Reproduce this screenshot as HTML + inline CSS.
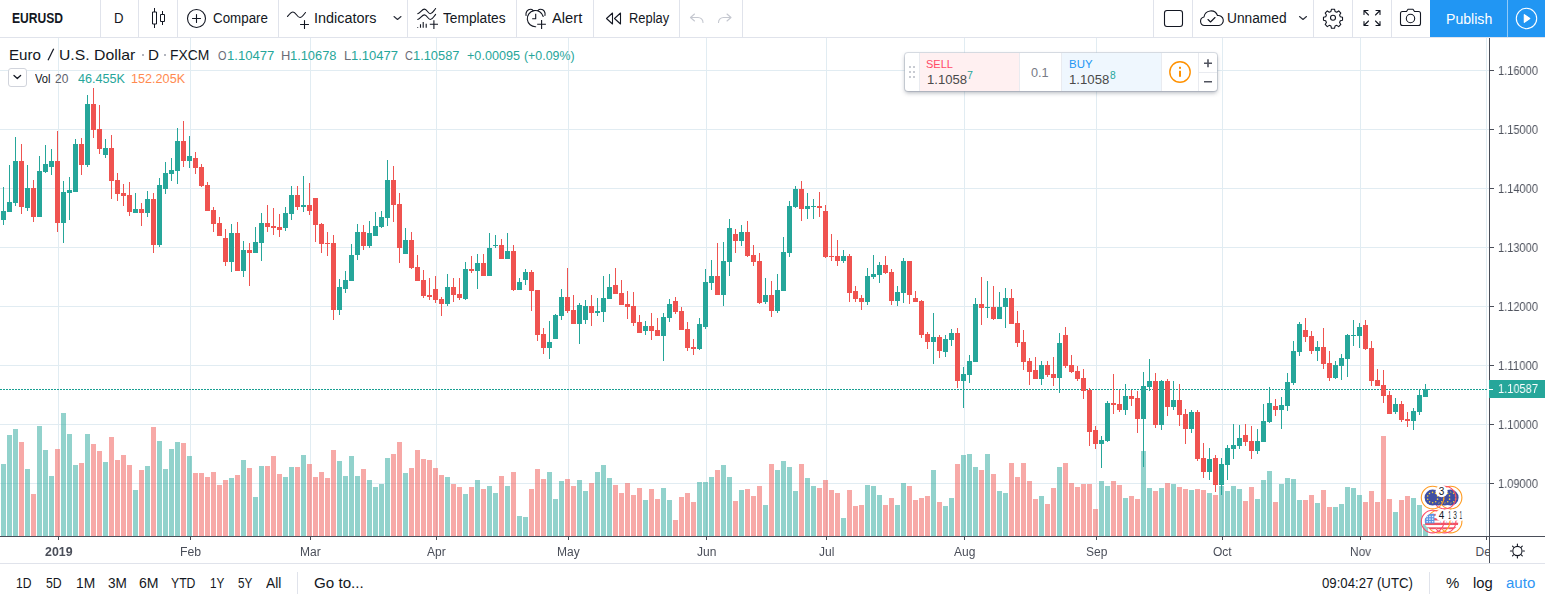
<!DOCTYPE html>
<html>
<head>
<meta charset="utf-8">
<title>EURUSD</title>
<style>
html,body{margin:0;padding:0;}
body{width:1545px;height:600px;overflow:hidden;background:#fff;position:relative;font-family:"Liberation Sans",sans-serif;color:#131722;}
.abs{position:absolute;}
.t{position:absolute;line-height:1;white-space:pre;transform-origin:0 0;}
.c{will-change:transform;}
.sep{position:absolute;top:0;width:1px;height:37px;background:#e0e3eb;}
svg{position:absolute;left:0;top:0;overflow:visible;}
</style>
</head>
<body>
<!-- chart svg -->
<svg width="1545" height="600" viewBox="0 0 1545 600" shape-rendering="crispEdges">
<rect x="0" y="70" width="1489" height="1" fill="#e1ecf2"/>
<rect x="0" y="129" width="1489" height="1" fill="#e1ecf2"/>
<rect x="0" y="188" width="1489" height="1" fill="#e1ecf2"/>
<rect x="0" y="247" width="1489" height="1" fill="#e1ecf2"/>
<rect x="0" y="306" width="1489" height="1" fill="#e1ecf2"/>
<rect x="0" y="365" width="1489" height="1" fill="#e1ecf2"/>
<rect x="0" y="424" width="1489" height="1" fill="#e1ecf2"/>
<rect x="0" y="483" width="1489" height="1" fill="#e1ecf2"/>
<rect x="58" y="38" width="1" height="498" fill="#e1ecf2"/>
<rect x="190" y="38" width="1" height="498" fill="#e1ecf2"/>
<rect x="310" y="38" width="1" height="498" fill="#e1ecf2"/>
<rect x="436" y="38" width="1" height="498" fill="#e1ecf2"/>
<rect x="568" y="38" width="1" height="498" fill="#e1ecf2"/>
<rect x="706" y="38" width="1" height="498" fill="#e1ecf2"/>
<rect x="826" y="38" width="1" height="498" fill="#e1ecf2"/>
<rect x="964" y="38" width="1" height="498" fill="#e1ecf2"/>
<rect x="1096" y="38" width="1" height="498" fill="#e1ecf2"/>
<rect x="1222" y="38" width="1" height="498" fill="#e1ecf2"/>
<rect x="1360" y="38" width="1" height="498" fill="#e1ecf2"/>
<rect x="1486" y="38" width="1" height="498" fill="#e1ecf2"/>
<rect x="1" y="464" width="5" height="72" fill="rgba(38,166,154,0.5)"/>
<rect x="7" y="435" width="5" height="101" fill="rgba(38,166,154,0.5)"/>
<rect x="13" y="429" width="5" height="107" fill="rgba(38,166,154,0.5)"/>
<rect x="19" y="442" width="5" height="94" fill="rgba(239,83,80,0.5)"/>
<rect x="25" y="469" width="5" height="67" fill="rgba(38,166,154,0.5)"/>
<rect x="31" y="494" width="5" height="42" fill="rgba(239,83,80,0.5)"/>
<rect x="37" y="426" width="5" height="110" fill="rgba(38,166,154,0.5)"/>
<rect x="43" y="450" width="5" height="86" fill="rgba(38,166,154,0.5)"/>
<rect x="49" y="476" width="5" height="60" fill="rgba(38,166,154,0.5)"/>
<rect x="55" y="449" width="5" height="87" fill="rgba(239,83,80,0.5)"/>
<rect x="61" y="413" width="5" height="123" fill="rgba(38,166,154,0.5)"/>
<rect x="67" y="434" width="5" height="102" fill="rgba(38,166,154,0.5)"/>
<rect x="73" y="465" width="5" height="71" fill="rgba(38,166,154,0.5)"/>
<rect x="79" y="463" width="5" height="73" fill="rgba(239,83,80,0.5)"/>
<rect x="85" y="434" width="5" height="102" fill="rgba(38,166,154,0.5)"/>
<rect x="91" y="444" width="5" height="92" fill="rgba(239,83,80,0.5)"/>
<rect x="97" y="451" width="5" height="85" fill="rgba(239,83,80,0.5)"/>
<rect x="103" y="462" width="5" height="74" fill="rgba(38,166,154,0.5)"/>
<rect x="109" y="437" width="5" height="99" fill="rgba(239,83,80,0.5)"/>
<rect x="115" y="460" width="5" height="76" fill="rgba(239,83,80,0.5)"/>
<rect x="121" y="455" width="5" height="81" fill="rgba(239,83,80,0.5)"/>
<rect x="127" y="465" width="5" height="71" fill="rgba(239,83,80,0.5)"/>
<rect x="133" y="490" width="5" height="46" fill="rgba(38,166,154,0.5)"/>
<rect x="139" y="470" width="5" height="66" fill="rgba(239,83,80,0.5)"/>
<rect x="145" y="466" width="5" height="70" fill="rgba(38,166,154,0.5)"/>
<rect x="151" y="427" width="5" height="109" fill="rgba(239,83,80,0.5)"/>
<rect x="157" y="441" width="5" height="95" fill="rgba(38,166,154,0.5)"/>
<rect x="163" y="469" width="5" height="67" fill="rgba(38,166,154,0.5)"/>
<rect x="169" y="449" width="5" height="87" fill="rgba(38,166,154,0.5)"/>
<rect x="175" y="442" width="5" height="94" fill="rgba(38,166,154,0.5)"/>
<rect x="181" y="443" width="5" height="93" fill="rgba(239,83,80,0.5)"/>
<rect x="187" y="456" width="5" height="80" fill="rgba(38,166,154,0.5)"/>
<rect x="193" y="473" width="5" height="63" fill="rgba(239,83,80,0.5)"/>
<rect x="199" y="473" width="5" height="63" fill="rgba(239,83,80,0.5)"/>
<rect x="205" y="477" width="5" height="59" fill="rgba(239,83,80,0.5)"/>
<rect x="211" y="472" width="5" height="64" fill="rgba(239,83,80,0.5)"/>
<rect x="217" y="485" width="5" height="51" fill="rgba(239,83,80,0.5)"/>
<rect x="223" y="480" width="5" height="56" fill="rgba(239,83,80,0.5)"/>
<rect x="229" y="478" width="5" height="58" fill="rgba(38,166,154,0.5)"/>
<rect x="235" y="475" width="5" height="61" fill="rgba(239,83,80,0.5)"/>
<rect x="241" y="460" width="5" height="76" fill="rgba(38,166,154,0.5)"/>
<rect x="247" y="468" width="5" height="68" fill="rgba(239,83,80,0.5)"/>
<rect x="253" y="497" width="5" height="39" fill="rgba(38,166,154,0.5)"/>
<rect x="259" y="466" width="5" height="70" fill="rgba(38,166,154,0.5)"/>
<rect x="265" y="466" width="5" height="70" fill="rgba(239,83,80,0.5)"/>
<rect x="271" y="456" width="5" height="80" fill="rgba(239,83,80,0.5)"/>
<rect x="277" y="474" width="5" height="62" fill="rgba(239,83,80,0.5)"/>
<rect x="283" y="477" width="5" height="59" fill="rgba(38,166,154,0.5)"/>
<rect x="289" y="467" width="5" height="69" fill="rgba(38,166,154,0.5)"/>
<rect x="295" y="467" width="5" height="69" fill="rgba(239,83,80,0.5)"/>
<rect x="301" y="455" width="5" height="81" fill="rgba(38,166,154,0.5)"/>
<rect x="307" y="464" width="5" height="72" fill="rgba(239,83,80,0.5)"/>
<rect x="313" y="477" width="5" height="59" fill="rgba(239,83,80,0.5)"/>
<rect x="319" y="472" width="5" height="64" fill="rgba(239,83,80,0.5)"/>
<rect x="325" y="478" width="5" height="58" fill="rgba(239,83,80,0.5)"/>
<rect x="331" y="450" width="5" height="86" fill="rgba(239,83,80,0.5)"/>
<rect x="337" y="461" width="5" height="75" fill="rgba(38,166,154,0.5)"/>
<rect x="343" y="476" width="5" height="60" fill="rgba(38,166,154,0.5)"/>
<rect x="349" y="456" width="5" height="80" fill="rgba(38,166,154,0.5)"/>
<rect x="355" y="476" width="5" height="60" fill="rgba(38,166,154,0.5)"/>
<rect x="361" y="469" width="5" height="67" fill="rgba(239,83,80,0.5)"/>
<rect x="367" y="480" width="5" height="56" fill="rgba(38,166,154,0.5)"/>
<rect x="373" y="487" width="5" height="49" fill="rgba(38,166,154,0.5)"/>
<rect x="379" y="484" width="5" height="52" fill="rgba(38,166,154,0.5)"/>
<rect x="385" y="458" width="5" height="78" fill="rgba(38,166,154,0.5)"/>
<rect x="391" y="454" width="5" height="82" fill="rgba(239,83,80,0.5)"/>
<rect x="397" y="442" width="5" height="94" fill="rgba(239,83,80,0.5)"/>
<rect x="403" y="473" width="5" height="63" fill="rgba(38,166,154,0.5)"/>
<rect x="409" y="468" width="5" height="68" fill="rgba(239,83,80,0.5)"/>
<rect x="415" y="450" width="5" height="86" fill="rgba(239,83,80,0.5)"/>
<rect x="421" y="459" width="5" height="77" fill="rgba(239,83,80,0.5)"/>
<rect x="427" y="460" width="5" height="76" fill="rgba(239,83,80,0.5)"/>
<rect x="433" y="468" width="5" height="68" fill="rgba(239,83,80,0.5)"/>
<rect x="439" y="475" width="5" height="61" fill="rgba(239,83,80,0.5)"/>
<rect x="445" y="477" width="5" height="59" fill="rgba(38,166,154,0.5)"/>
<rect x="451" y="484" width="5" height="52" fill="rgba(239,83,80,0.5)"/>
<rect x="457" y="487" width="5" height="49" fill="rgba(239,83,80,0.5)"/>
<rect x="463" y="494" width="5" height="42" fill="rgba(38,166,154,0.5)"/>
<rect x="469" y="487" width="5" height="49" fill="rgba(239,83,80,0.5)"/>
<rect x="475" y="480" width="5" height="56" fill="rgba(38,166,154,0.5)"/>
<rect x="481" y="489" width="5" height="47" fill="rgba(239,83,80,0.5)"/>
<rect x="487" y="486" width="5" height="50" fill="rgba(38,166,154,0.5)"/>
<rect x="493" y="493" width="5" height="43" fill="rgba(38,166,154,0.5)"/>
<rect x="499" y="476" width="5" height="60" fill="rgba(239,83,80,0.5)"/>
<rect x="505" y="486" width="5" height="50" fill="rgba(38,166,154,0.5)"/>
<rect x="511" y="472" width="5" height="64" fill="rgba(239,83,80,0.5)"/>
<rect x="517" y="516" width="5" height="20" fill="rgba(38,166,154,0.5)"/>
<rect x="523" y="517" width="5" height="19" fill="rgba(38,166,154,0.5)"/>
<rect x="529" y="489" width="5" height="47" fill="rgba(239,83,80,0.5)"/>
<rect x="535" y="469" width="5" height="67" fill="rgba(239,83,80,0.5)"/>
<rect x="541" y="479" width="5" height="57" fill="rgba(239,83,80,0.5)"/>
<rect x="547" y="472" width="5" height="64" fill="rgba(38,166,154,0.5)"/>
<rect x="553" y="499" width="5" height="37" fill="rgba(38,166,154,0.5)"/>
<rect x="559" y="481" width="5" height="55" fill="rgba(38,166,154,0.5)"/>
<rect x="565" y="479" width="5" height="57" fill="rgba(239,83,80,0.5)"/>
<rect x="571" y="486" width="5" height="50" fill="rgba(239,83,80,0.5)"/>
<rect x="577" y="480" width="5" height="56" fill="rgba(38,166,154,0.5)"/>
<rect x="583" y="491" width="5" height="45" fill="rgba(38,166,154,0.5)"/>
<rect x="589" y="483" width="5" height="53" fill="rgba(239,83,80,0.5)"/>
<rect x="595" y="472" width="5" height="64" fill="rgba(38,166,154,0.5)"/>
<rect x="601" y="465" width="5" height="71" fill="rgba(38,166,154,0.5)"/>
<rect x="607" y="478" width="5" height="58" fill="rgba(38,166,154,0.5)"/>
<rect x="613" y="485" width="5" height="51" fill="rgba(239,83,80,0.5)"/>
<rect x="619" y="493" width="5" height="43" fill="rgba(239,83,80,0.5)"/>
<rect x="625" y="483" width="5" height="53" fill="rgba(239,83,80,0.5)"/>
<rect x="631" y="495" width="5" height="41" fill="rgba(239,83,80,0.5)"/>
<rect x="637" y="488" width="5" height="48" fill="rgba(239,83,80,0.5)"/>
<rect x="643" y="500" width="5" height="36" fill="rgba(38,166,154,0.5)"/>
<rect x="649" y="489" width="5" height="47" fill="rgba(239,83,80,0.5)"/>
<rect x="655" y="499" width="5" height="37" fill="rgba(239,83,80,0.5)"/>
<rect x="661" y="488" width="5" height="48" fill="rgba(38,166,154,0.5)"/>
<rect x="667" y="500" width="5" height="36" fill="rgba(38,166,154,0.5)"/>
<rect x="673" y="520" width="5" height="16" fill="rgba(239,83,80,0.5)"/>
<rect x="679" y="497" width="5" height="39" fill="rgba(239,83,80,0.5)"/>
<rect x="685" y="493" width="5" height="43" fill="rgba(239,83,80,0.5)"/>
<rect x="691" y="502" width="5" height="34" fill="rgba(239,83,80,0.5)"/>
<rect x="697" y="482" width="5" height="54" fill="rgba(38,166,154,0.5)"/>
<rect x="703" y="482" width="5" height="54" fill="rgba(38,166,154,0.5)"/>
<rect x="709" y="477" width="5" height="59" fill="rgba(38,166,154,0.5)"/>
<rect x="715" y="470" width="5" height="66" fill="rgba(239,83,80,0.5)"/>
<rect x="721" y="465" width="5" height="71" fill="rgba(38,166,154,0.5)"/>
<rect x="727" y="477" width="5" height="59" fill="rgba(38,166,154,0.5)"/>
<rect x="733" y="501" width="5" height="35" fill="rgba(239,83,80,0.5)"/>
<rect x="739" y="490" width="5" height="46" fill="rgba(38,166,154,0.5)"/>
<rect x="745" y="489" width="5" height="47" fill="rgba(239,83,80,0.5)"/>
<rect x="751" y="496" width="5" height="40" fill="rgba(239,83,80,0.5)"/>
<rect x="757" y="486" width="5" height="50" fill="rgba(239,83,80,0.5)"/>
<rect x="763" y="505" width="5" height="31" fill="rgba(38,166,154,0.5)"/>
<rect x="769" y="464" width="5" height="72" fill="rgba(239,83,80,0.5)"/>
<rect x="775" y="470" width="5" height="66" fill="rgba(38,166,154,0.5)"/>
<rect x="781" y="461" width="5" height="75" fill="rgba(38,166,154,0.5)"/>
<rect x="787" y="467" width="5" height="69" fill="rgba(38,166,154,0.5)"/>
<rect x="793" y="491" width="5" height="45" fill="rgba(38,166,154,0.5)"/>
<rect x="799" y="464" width="5" height="72" fill="rgba(239,83,80,0.5)"/>
<rect x="805" y="478" width="5" height="58" fill="rgba(38,166,154,0.5)"/>
<rect x="811" y="486" width="5" height="50" fill="rgba(38,166,154,0.5)"/>
<rect x="817" y="488" width="5" height="48" fill="rgba(239,83,80,0.5)"/>
<rect x="823" y="480" width="5" height="56" fill="rgba(239,83,80,0.5)"/>
<rect x="829" y="490" width="5" height="46" fill="rgba(239,83,80,0.5)"/>
<rect x="835" y="493" width="5" height="43" fill="rgba(239,83,80,0.5)"/>
<rect x="841" y="518" width="5" height="18" fill="rgba(38,166,154,0.5)"/>
<rect x="847" y="490" width="5" height="46" fill="rgba(239,83,80,0.5)"/>
<rect x="853" y="506" width="5" height="30" fill="rgba(239,83,80,0.5)"/>
<rect x="859" y="505" width="5" height="31" fill="rgba(239,83,80,0.5)"/>
<rect x="865" y="485" width="5" height="51" fill="rgba(38,166,154,0.5)"/>
<rect x="871" y="486" width="5" height="50" fill="rgba(38,166,154,0.5)"/>
<rect x="877" y="495" width="5" height="41" fill="rgba(38,166,154,0.5)"/>
<rect x="883" y="505" width="5" height="31" fill="rgba(239,83,80,0.5)"/>
<rect x="889" y="498" width="5" height="38" fill="rgba(239,83,80,0.5)"/>
<rect x="895" y="505" width="5" height="31" fill="rgba(38,166,154,0.5)"/>
<rect x="901" y="483" width="5" height="53" fill="rgba(38,166,154,0.5)"/>
<rect x="907" y="486" width="5" height="50" fill="rgba(239,83,80,0.5)"/>
<rect x="913" y="500" width="5" height="36" fill="rgba(239,83,80,0.5)"/>
<rect x="919" y="498" width="5" height="38" fill="rgba(239,83,80,0.5)"/>
<rect x="925" y="496" width="5" height="40" fill="rgba(239,83,80,0.5)"/>
<rect x="931" y="470" width="5" height="66" fill="rgba(38,166,154,0.5)"/>
<rect x="937" y="502" width="5" height="34" fill="rgba(239,83,80,0.5)"/>
<rect x="943" y="506" width="5" height="30" fill="rgba(38,166,154,0.5)"/>
<rect x="949" y="498" width="5" height="38" fill="rgba(38,166,154,0.5)"/>
<rect x="955" y="464" width="5" height="72" fill="rgba(239,83,80,0.5)"/>
<rect x="961" y="455" width="5" height="81" fill="rgba(38,166,154,0.5)"/>
<rect x="967" y="454" width="5" height="82" fill="rgba(38,166,154,0.5)"/>
<rect x="973" y="467" width="5" height="69" fill="rgba(38,166,154,0.5)"/>
<rect x="979" y="470" width="5" height="66" fill="rgba(239,83,80,0.5)"/>
<rect x="985" y="454" width="5" height="82" fill="rgba(38,166,154,0.5)"/>
<rect x="991" y="474" width="5" height="62" fill="rgba(239,83,80,0.5)"/>
<rect x="997" y="491" width="5" height="45" fill="rgba(38,166,154,0.5)"/>
<rect x="1003" y="493" width="5" height="43" fill="rgba(38,166,154,0.5)"/>
<rect x="1009" y="463" width="5" height="73" fill="rgba(239,83,80,0.5)"/>
<rect x="1015" y="477" width="5" height="59" fill="rgba(239,83,80,0.5)"/>
<rect x="1021" y="463" width="5" height="73" fill="rgba(239,83,80,0.5)"/>
<rect x="1027" y="481" width="5" height="55" fill="rgba(239,83,80,0.5)"/>
<rect x="1033" y="499" width="5" height="37" fill="rgba(239,83,80,0.5)"/>
<rect x="1039" y="496" width="5" height="40" fill="rgba(38,166,154,0.5)"/>
<rect x="1045" y="504" width="5" height="32" fill="rgba(239,83,80,0.5)"/>
<rect x="1051" y="488" width="5" height="48" fill="rgba(239,83,80,0.5)"/>
<rect x="1057" y="467" width="5" height="69" fill="rgba(38,166,154,0.5)"/>
<rect x="1063" y="463" width="5" height="73" fill="rgba(239,83,80,0.5)"/>
<rect x="1069" y="483" width="5" height="53" fill="rgba(239,83,80,0.5)"/>
<rect x="1075" y="487" width="5" height="49" fill="rgba(239,83,80,0.5)"/>
<rect x="1081" y="484" width="5" height="52" fill="rgba(239,83,80,0.5)"/>
<rect x="1087" y="484" width="5" height="52" fill="rgba(239,83,80,0.5)"/>
<rect x="1093" y="509" width="5" height="27" fill="rgba(239,83,80,0.5)"/>
<rect x="1099" y="481" width="5" height="55" fill="rgba(38,166,154,0.5)"/>
<rect x="1105" y="486" width="5" height="50" fill="rgba(38,166,154,0.5)"/>
<rect x="1111" y="481" width="5" height="55" fill="rgba(239,83,80,0.5)"/>
<rect x="1117" y="485" width="5" height="51" fill="rgba(239,83,80,0.5)"/>
<rect x="1123" y="498" width="5" height="38" fill="rgba(38,166,154,0.5)"/>
<rect x="1129" y="496" width="5" height="40" fill="rgba(239,83,80,0.5)"/>
<rect x="1135" y="499" width="5" height="37" fill="rgba(239,83,80,0.5)"/>
<rect x="1141" y="451" width="5" height="85" fill="rgba(38,166,154,0.5)"/>
<rect x="1147" y="488" width="5" height="48" fill="rgba(38,166,154,0.5)"/>
<rect x="1153" y="491" width="5" height="45" fill="rgba(239,83,80,0.5)"/>
<rect x="1159" y="488" width="5" height="48" fill="rgba(38,166,154,0.5)"/>
<rect x="1165" y="483" width="5" height="53" fill="rgba(239,83,80,0.5)"/>
<rect x="1171" y="484" width="5" height="52" fill="rgba(38,166,154,0.5)"/>
<rect x="1177" y="487" width="5" height="49" fill="rgba(239,83,80,0.5)"/>
<rect x="1183" y="489" width="5" height="47" fill="rgba(239,83,80,0.5)"/>
<rect x="1189" y="490" width="5" height="46" fill="rgba(38,166,154,0.5)"/>
<rect x="1195" y="489" width="5" height="47" fill="rgba(239,83,80,0.5)"/>
<rect x="1201" y="490" width="5" height="46" fill="rgba(239,83,80,0.5)"/>
<rect x="1207" y="493" width="5" height="43" fill="rgba(38,166,154,0.5)"/>
<rect x="1213" y="495" width="5" height="41" fill="rgba(239,83,80,0.5)"/>
<rect x="1219" y="486" width="5" height="50" fill="rgba(38,166,154,0.5)"/>
<rect x="1225" y="491" width="5" height="45" fill="rgba(38,166,154,0.5)"/>
<rect x="1231" y="486" width="5" height="50" fill="rgba(38,166,154,0.5)"/>
<rect x="1237" y="489" width="5" height="47" fill="rgba(38,166,154,0.5)"/>
<rect x="1243" y="501" width="5" height="35" fill="rgba(239,83,80,0.5)"/>
<rect x="1249" y="487" width="5" height="49" fill="rgba(239,83,80,0.5)"/>
<rect x="1255" y="499" width="5" height="37" fill="rgba(38,166,154,0.5)"/>
<rect x="1261" y="480" width="5" height="56" fill="rgba(38,166,154,0.5)"/>
<rect x="1267" y="471" width="5" height="65" fill="rgba(38,166,154,0.5)"/>
<rect x="1273" y="502" width="5" height="34" fill="rgba(239,83,80,0.5)"/>
<rect x="1279" y="484" width="5" height="52" fill="rgba(38,166,154,0.5)"/>
<rect x="1285" y="478" width="5" height="58" fill="rgba(38,166,154,0.5)"/>
<rect x="1291" y="479" width="5" height="57" fill="rgba(38,166,154,0.5)"/>
<rect x="1297" y="500" width="5" height="36" fill="rgba(38,166,154,0.5)"/>
<rect x="1303" y="500" width="5" height="36" fill="rgba(239,83,80,0.5)"/>
<rect x="1309" y="495" width="5" height="41" fill="rgba(239,83,80,0.5)"/>
<rect x="1315" y="503" width="5" height="33" fill="rgba(38,166,154,0.5)"/>
<rect x="1321" y="490" width="5" height="46" fill="rgba(239,83,80,0.5)"/>
<rect x="1327" y="507" width="5" height="29" fill="rgba(239,83,80,0.5)"/>
<rect x="1333" y="507" width="5" height="29" fill="rgba(38,166,154,0.5)"/>
<rect x="1339" y="504" width="5" height="32" fill="rgba(38,166,154,0.5)"/>
<rect x="1345" y="487" width="5" height="49" fill="rgba(38,166,154,0.5)"/>
<rect x="1351" y="488" width="5" height="48" fill="rgba(38,166,154,0.5)"/>
<rect x="1357" y="495" width="5" height="41" fill="rgba(38,166,154,0.5)"/>
<rect x="1363" y="502" width="5" height="34" fill="rgba(239,83,80,0.5)"/>
<rect x="1369" y="491" width="5" height="45" fill="rgba(239,83,80,0.5)"/>
<rect x="1375" y="502" width="5" height="34" fill="rgba(239,83,80,0.5)"/>
<rect x="1381" y="436" width="5" height="100" fill="rgba(239,83,80,0.5)"/>
<rect x="1387" y="499" width="5" height="37" fill="rgba(239,83,80,0.5)"/>
<rect x="1393" y="512" width="5" height="24" fill="rgba(38,166,154,0.5)"/>
<rect x="1399" y="500" width="5" height="36" fill="rgba(239,83,80,0.5)"/>
<rect x="1405" y="496" width="5" height="40" fill="rgba(239,83,80,0.5)"/>
<rect x="1411" y="498" width="5" height="38" fill="rgba(38,166,154,0.5)"/>
<rect x="1417" y="505" width="5" height="31" fill="rgba(38,166,154,0.5)"/>
<rect x="1423" y="524" width="5" height="12" fill="rgba(38,166,154,0.5)"/>
<line x1="0" y1="389.5" x2="1487" y2="389.5" stroke="#1a9f92" stroke-width="1" stroke-dasharray="2 1"/>
<rect x="3" y="187" width="1" height="38" fill="#26a69a"/>
<rect x="1" y="211" width="5" height="9" fill="#26a69a"/>
<rect x="9" y="165" width="1" height="47" fill="#26a69a"/>
<rect x="7" y="202" width="5" height="10" fill="#26a69a"/>
<rect x="15" y="137" width="1" height="69" fill="#26a69a"/>
<rect x="13" y="161" width="5" height="42" fill="#26a69a"/>
<rect x="21" y="144" width="1" height="70" fill="#ef5350"/>
<rect x="19" y="161" width="5" height="46" fill="#ef5350"/>
<rect x="27" y="165" width="1" height="46" fill="#26a69a"/>
<rect x="25" y="188" width="5" height="20" fill="#26a69a"/>
<rect x="33" y="180" width="1" height="42" fill="#ef5350"/>
<rect x="31" y="188" width="5" height="29" fill="#ef5350"/>
<rect x="39" y="156" width="1" height="61" fill="#26a69a"/>
<rect x="37" y="171" width="5" height="46" fill="#26a69a"/>
<rect x="45" y="145" width="1" height="28" fill="#26a69a"/>
<rect x="43" y="164" width="5" height="8" fill="#26a69a"/>
<rect x="51" y="149" width="1" height="26" fill="#26a69a"/>
<rect x="49" y="161" width="5" height="6" fill="#26a69a"/>
<rect x="57" y="131" width="1" height="101" fill="#ef5350"/>
<rect x="55" y="161" width="5" height="62" fill="#ef5350"/>
<rect x="63" y="181" width="1" height="62" fill="#26a69a"/>
<rect x="61" y="192" width="5" height="31" fill="#26a69a"/>
<rect x="69" y="177" width="1" height="43" fill="#26a69a"/>
<rect x="67" y="190" width="5" height="3" fill="#26a69a"/>
<rect x="75" y="139" width="1" height="53" fill="#26a69a"/>
<rect x="73" y="144" width="5" height="48" fill="#26a69a"/>
<rect x="81" y="138" width="1" height="37" fill="#ef5350"/>
<rect x="79" y="144" width="5" height="21" fill="#ef5350"/>
<rect x="87" y="95" width="1" height="72" fill="#26a69a"/>
<rect x="85" y="104" width="5" height="61" fill="#26a69a"/>
<rect x="93" y="88" width="1" height="50" fill="#ef5350"/>
<rect x="91" y="104" width="5" height="26" fill="#ef5350"/>
<rect x="99" y="105" width="1" height="49" fill="#ef5350"/>
<rect x="97" y="129" width="5" height="20" fill="#ef5350"/>
<rect x="105" y="139" width="1" height="19" fill="#26a69a"/>
<rect x="103" y="148" width="5" height="7" fill="#26a69a"/>
<rect x="111" y="135" width="1" height="64" fill="#ef5350"/>
<rect x="109" y="148" width="5" height="33" fill="#ef5350"/>
<rect x="117" y="173" width="1" height="28" fill="#ef5350"/>
<rect x="115" y="180" width="5" height="14" fill="#ef5350"/>
<rect x="123" y="184" width="1" height="22" fill="#ef5350"/>
<rect x="121" y="193" width="5" height="3" fill="#ef5350"/>
<rect x="129" y="182" width="1" height="34" fill="#ef5350"/>
<rect x="127" y="195" width="5" height="17" fill="#ef5350"/>
<rect x="135" y="193" width="1" height="20" fill="#26a69a"/>
<rect x="133" y="209" width="5" height="4" fill="#26a69a"/>
<rect x="141" y="203" width="1" height="23" fill="#ef5350"/>
<rect x="139" y="209" width="5" height="4" fill="#ef5350"/>
<rect x="147" y="191" width="1" height="26" fill="#26a69a"/>
<rect x="145" y="199" width="5" height="14" fill="#26a69a"/>
<rect x="153" y="193" width="1" height="60" fill="#ef5350"/>
<rect x="151" y="199" width="5" height="46" fill="#ef5350"/>
<rect x="159" y="178" width="1" height="69" fill="#26a69a"/>
<rect x="157" y="185" width="5" height="60" fill="#26a69a"/>
<rect x="165" y="162" width="1" height="32" fill="#26a69a"/>
<rect x="163" y="173" width="5" height="16" fill="#26a69a"/>
<rect x="171" y="158" width="1" height="23" fill="#26a69a"/>
<rect x="169" y="170" width="5" height="4" fill="#26a69a"/>
<rect x="177" y="128" width="1" height="56" fill="#26a69a"/>
<rect x="175" y="141" width="5" height="30" fill="#26a69a"/>
<rect x="183" y="121" width="1" height="46" fill="#ef5350"/>
<rect x="181" y="141" width="5" height="20" fill="#ef5350"/>
<rect x="189" y="136" width="1" height="32" fill="#26a69a"/>
<rect x="187" y="156" width="5" height="5" fill="#26a69a"/>
<rect x="195" y="152" width="1" height="22" fill="#ef5350"/>
<rect x="193" y="158" width="5" height="10" fill="#ef5350"/>
<rect x="201" y="164" width="1" height="23" fill="#ef5350"/>
<rect x="199" y="167" width="5" height="19" fill="#ef5350"/>
<rect x="207" y="182" width="1" height="29" fill="#ef5350"/>
<rect x="205" y="185" width="5" height="26" fill="#ef5350"/>
<rect x="213" y="207" width="1" height="25" fill="#ef5350"/>
<rect x="211" y="210" width="5" height="14" fill="#ef5350"/>
<rect x="219" y="217" width="1" height="19" fill="#ef5350"/>
<rect x="217" y="223" width="5" height="13" fill="#ef5350"/>
<rect x="225" y="229" width="1" height="37" fill="#ef5350"/>
<rect x="223" y="238" width="5" height="24" fill="#ef5350"/>
<rect x="231" y="224" width="1" height="48" fill="#26a69a"/>
<rect x="229" y="233" width="5" height="29" fill="#26a69a"/>
<rect x="237" y="222" width="1" height="49" fill="#ef5350"/>
<rect x="235" y="233" width="5" height="38" fill="#ef5350"/>
<rect x="243" y="241" width="1" height="36" fill="#26a69a"/>
<rect x="241" y="250" width="5" height="21" fill="#26a69a"/>
<rect x="249" y="243" width="1" height="43" fill="#ef5350"/>
<rect x="247" y="250" width="5" height="3" fill="#ef5350"/>
<rect x="255" y="227" width="1" height="26" fill="#26a69a"/>
<rect x="253" y="242" width="5" height="11" fill="#26a69a"/>
<rect x="261" y="213" width="1" height="48" fill="#26a69a"/>
<rect x="259" y="223" width="5" height="20" fill="#26a69a"/>
<rect x="267" y="205" width="1" height="27" fill="#ef5350"/>
<rect x="265" y="223" width="5" height="4" fill="#ef5350"/>
<rect x="273" y="208" width="1" height="27" fill="#ef5350"/>
<rect x="271" y="226" width="5" height="2" fill="#ef5350"/>
<rect x="279" y="214" width="1" height="23" fill="#ef5350"/>
<rect x="277" y="227" width="5" height="3" fill="#ef5350"/>
<rect x="285" y="207" width="1" height="24" fill="#26a69a"/>
<rect x="283" y="213" width="5" height="15" fill="#26a69a"/>
<rect x="291" y="186" width="1" height="34" fill="#26a69a"/>
<rect x="289" y="195" width="5" height="19" fill="#26a69a"/>
<rect x="297" y="186" width="1" height="24" fill="#ef5350"/>
<rect x="295" y="195" width="5" height="12" fill="#ef5350"/>
<rect x="303" y="176" width="1" height="36" fill="#26a69a"/>
<rect x="301" y="205" width="5" height="2" fill="#26a69a"/>
<rect x="309" y="183" width="1" height="32" fill="#ef5350"/>
<rect x="307" y="205" width="5" height="6" fill="#ef5350"/>
<rect x="315" y="198" width="1" height="44" fill="#ef5350"/>
<rect x="313" y="198" width="5" height="27" fill="#ef5350"/>
<rect x="321" y="223" width="1" height="30" fill="#ef5350"/>
<rect x="319" y="224" width="5" height="20" fill="#ef5350"/>
<rect x="327" y="232" width="1" height="24" fill="#ef5350"/>
<rect x="325" y="243" width="5" height="1" fill="#ef5350"/>
<rect x="333" y="235" width="1" height="85" fill="#ef5350"/>
<rect x="331" y="243" width="5" height="67" fill="#ef5350"/>
<rect x="339" y="279" width="1" height="36" fill="#26a69a"/>
<rect x="337" y="287" width="5" height="23" fill="#26a69a"/>
<rect x="345" y="271" width="1" height="22" fill="#26a69a"/>
<rect x="343" y="280" width="5" height="9" fill="#26a69a"/>
<rect x="351" y="244" width="1" height="37" fill="#26a69a"/>
<rect x="349" y="255" width="5" height="26" fill="#26a69a"/>
<rect x="357" y="224" width="1" height="36" fill="#26a69a"/>
<rect x="355" y="232" width="5" height="23" fill="#26a69a"/>
<rect x="363" y="225" width="1" height="25" fill="#ef5350"/>
<rect x="361" y="232" width="5" height="14" fill="#ef5350"/>
<rect x="369" y="221" width="1" height="27" fill="#26a69a"/>
<rect x="367" y="233" width="5" height="13" fill="#26a69a"/>
<rect x="375" y="212" width="1" height="24" fill="#26a69a"/>
<rect x="373" y="226" width="5" height="10" fill="#26a69a"/>
<rect x="381" y="211" width="1" height="17" fill="#26a69a"/>
<rect x="379" y="217" width="5" height="10" fill="#26a69a"/>
<rect x="387" y="160" width="1" height="66" fill="#26a69a"/>
<rect x="385" y="180" width="5" height="38" fill="#26a69a"/>
<rect x="393" y="166" width="1" height="56" fill="#ef5350"/>
<rect x="391" y="180" width="5" height="25" fill="#ef5350"/>
<rect x="399" y="193" width="1" height="70" fill="#ef5350"/>
<rect x="397" y="204" width="5" height="44" fill="#ef5350"/>
<rect x="405" y="228" width="1" height="26" fill="#26a69a"/>
<rect x="403" y="240" width="5" height="14" fill="#26a69a"/>
<rect x="411" y="232" width="1" height="37" fill="#ef5350"/>
<rect x="409" y="240" width="5" height="28" fill="#ef5350"/>
<rect x="417" y="255" width="1" height="26" fill="#ef5350"/>
<rect x="415" y="267" width="5" height="14" fill="#ef5350"/>
<rect x="423" y="270" width="1" height="28" fill="#ef5350"/>
<rect x="421" y="280" width="5" height="16" fill="#ef5350"/>
<rect x="429" y="278" width="1" height="22" fill="#ef5350"/>
<rect x="427" y="295" width="5" height="2" fill="#ef5350"/>
<rect x="435" y="276" width="1" height="27" fill="#ef5350"/>
<rect x="433" y="289" width="5" height="11" fill="#ef5350"/>
<rect x="441" y="297" width="1" height="19" fill="#ef5350"/>
<rect x="439" y="299" width="5" height="5" fill="#ef5350"/>
<rect x="447" y="274" width="1" height="32" fill="#26a69a"/>
<rect x="445" y="287" width="5" height="17" fill="#26a69a"/>
<rect x="453" y="278" width="1" height="24" fill="#ef5350"/>
<rect x="451" y="287" width="5" height="8" fill="#ef5350"/>
<rect x="459" y="278" width="1" height="22" fill="#ef5350"/>
<rect x="457" y="294" width="5" height="4" fill="#ef5350"/>
<rect x="465" y="262" width="1" height="38" fill="#26a69a"/>
<rect x="463" y="269" width="5" height="30" fill="#26a69a"/>
<rect x="471" y="256" width="1" height="17" fill="#ef5350"/>
<rect x="469" y="269" width="5" height="2" fill="#ef5350"/>
<rect x="477" y="254" width="1" height="35" fill="#26a69a"/>
<rect x="475" y="263" width="5" height="8" fill="#26a69a"/>
<rect x="483" y="254" width="1" height="22" fill="#ef5350"/>
<rect x="481" y="263" width="5" height="13" fill="#ef5350"/>
<rect x="489" y="233" width="1" height="43" fill="#26a69a"/>
<rect x="487" y="248" width="5" height="28" fill="#26a69a"/>
<rect x="495" y="235" width="1" height="13" fill="#26a69a"/>
<rect x="493" y="245" width="5" height="1" fill="#26a69a"/>
<rect x="501" y="239" width="1" height="20" fill="#ef5350"/>
<rect x="499" y="245" width="5" height="14" fill="#ef5350"/>
<rect x="507" y="233" width="1" height="26" fill="#26a69a"/>
<rect x="505" y="251" width="5" height="8" fill="#26a69a"/>
<rect x="513" y="245" width="1" height="46" fill="#ef5350"/>
<rect x="511" y="251" width="5" height="39" fill="#ef5350"/>
<rect x="519" y="278" width="1" height="12" fill="#26a69a"/>
<rect x="517" y="282" width="5" height="8" fill="#26a69a"/>
<rect x="525" y="269" width="1" height="16" fill="#26a69a"/>
<rect x="523" y="272" width="5" height="8" fill="#26a69a"/>
<rect x="531" y="270" width="1" height="41" fill="#ef5350"/>
<rect x="529" y="272" width="5" height="19" fill="#ef5350"/>
<rect x="537" y="290" width="1" height="51" fill="#ef5350"/>
<rect x="535" y="290" width="5" height="45" fill="#ef5350"/>
<rect x="543" y="328" width="1" height="26" fill="#ef5350"/>
<rect x="541" y="334" width="5" height="14" fill="#ef5350"/>
<rect x="549" y="321" width="1" height="38" fill="#26a69a"/>
<rect x="547" y="342" width="5" height="6" fill="#26a69a"/>
<rect x="555" y="314" width="1" height="25" fill="#26a69a"/>
<rect x="553" y="315" width="5" height="24" fill="#26a69a"/>
<rect x="561" y="289" width="1" height="31" fill="#26a69a"/>
<rect x="559" y="297" width="5" height="19" fill="#26a69a"/>
<rect x="567" y="268" width="1" height="45" fill="#ef5350"/>
<rect x="565" y="297" width="5" height="14" fill="#ef5350"/>
<rect x="573" y="295" width="1" height="29" fill="#ef5350"/>
<rect x="571" y="310" width="5" height="14" fill="#ef5350"/>
<rect x="579" y="303" width="1" height="41" fill="#26a69a"/>
<rect x="577" y="305" width="5" height="19" fill="#26a69a"/>
<rect x="585" y="300" width="1" height="24" fill="#26a69a"/>
<rect x="583" y="306" width="5" height="14" fill="#26a69a"/>
<rect x="591" y="295" width="1" height="31" fill="#ef5350"/>
<rect x="589" y="306" width="5" height="7" fill="#ef5350"/>
<rect x="597" y="298" width="1" height="18" fill="#26a69a"/>
<rect x="595" y="311" width="5" height="2" fill="#26a69a"/>
<rect x="603" y="276" width="1" height="46" fill="#26a69a"/>
<rect x="601" y="298" width="5" height="14" fill="#26a69a"/>
<rect x="609" y="274" width="1" height="25" fill="#26a69a"/>
<rect x="607" y="287" width="5" height="12" fill="#26a69a"/>
<rect x="615" y="268" width="1" height="26" fill="#ef5350"/>
<rect x="613" y="285" width="5" height="9" fill="#ef5350"/>
<rect x="621" y="280" width="1" height="25" fill="#ef5350"/>
<rect x="619" y="293" width="5" height="12" fill="#ef5350"/>
<rect x="627" y="291" width="1" height="28" fill="#ef5350"/>
<rect x="625" y="304" width="5" height="3" fill="#ef5350"/>
<rect x="633" y="292" width="1" height="34" fill="#ef5350"/>
<rect x="631" y="306" width="5" height="17" fill="#ef5350"/>
<rect x="639" y="315" width="1" height="18" fill="#ef5350"/>
<rect x="637" y="322" width="5" height="11" fill="#ef5350"/>
<rect x="645" y="321" width="1" height="14" fill="#26a69a"/>
<rect x="643" y="326" width="5" height="5" fill="#26a69a"/>
<rect x="651" y="313" width="1" height="27" fill="#ef5350"/>
<rect x="649" y="326" width="5" height="5" fill="#ef5350"/>
<rect x="657" y="318" width="1" height="18" fill="#ef5350"/>
<rect x="655" y="330" width="5" height="6" fill="#ef5350"/>
<rect x="663" y="313" width="1" height="48" fill="#26a69a"/>
<rect x="661" y="317" width="5" height="19" fill="#26a69a"/>
<rect x="669" y="299" width="1" height="23" fill="#26a69a"/>
<rect x="667" y="304" width="5" height="14" fill="#26a69a"/>
<rect x="675" y="297" width="1" height="17" fill="#ef5350"/>
<rect x="673" y="301" width="5" height="11" fill="#ef5350"/>
<rect x="681" y="307" width="1" height="23" fill="#ef5350"/>
<rect x="679" y="311" width="5" height="19" fill="#ef5350"/>
<rect x="687" y="322" width="1" height="29" fill="#ef5350"/>
<rect x="685" y="329" width="5" height="19" fill="#ef5350"/>
<rect x="693" y="339" width="1" height="16" fill="#ef5350"/>
<rect x="691" y="347" width="5" height="2" fill="#ef5350"/>
<rect x="699" y="318" width="1" height="32" fill="#26a69a"/>
<rect x="697" y="324" width="5" height="25" fill="#26a69a"/>
<rect x="705" y="269" width="1" height="60" fill="#26a69a"/>
<rect x="703" y="282" width="5" height="45" fill="#26a69a"/>
<rect x="711" y="260" width="1" height="30" fill="#26a69a"/>
<rect x="709" y="276" width="5" height="7" fill="#26a69a"/>
<rect x="717" y="243" width="1" height="52" fill="#ef5350"/>
<rect x="715" y="276" width="5" height="19" fill="#ef5350"/>
<rect x="723" y="242" width="1" height="64" fill="#26a69a"/>
<rect x="721" y="261" width="5" height="34" fill="#26a69a"/>
<rect x="729" y="219" width="1" height="57" fill="#26a69a"/>
<rect x="727" y="228" width="5" height="34" fill="#26a69a"/>
<rect x="735" y="229" width="1" height="24" fill="#ef5350"/>
<rect x="733" y="234" width="5" height="7" fill="#ef5350"/>
<rect x="741" y="225" width="1" height="21" fill="#26a69a"/>
<rect x="739" y="232" width="5" height="9" fill="#26a69a"/>
<rect x="747" y="221" width="1" height="36" fill="#ef5350"/>
<rect x="745" y="232" width="5" height="24" fill="#ef5350"/>
<rect x="753" y="245" width="1" height="21" fill="#ef5350"/>
<rect x="751" y="255" width="5" height="7" fill="#ef5350"/>
<rect x="759" y="253" width="1" height="51" fill="#ef5350"/>
<rect x="757" y="261" width="5" height="42" fill="#ef5350"/>
<rect x="765" y="278" width="1" height="26" fill="#26a69a"/>
<rect x="763" y="295" width="5" height="7" fill="#26a69a"/>
<rect x="771" y="281" width="1" height="36" fill="#ef5350"/>
<rect x="769" y="295" width="5" height="16" fill="#ef5350"/>
<rect x="777" y="274" width="1" height="39" fill="#26a69a"/>
<rect x="775" y="290" width="5" height="21" fill="#26a69a"/>
<rect x="783" y="237" width="1" height="54" fill="#26a69a"/>
<rect x="781" y="252" width="5" height="39" fill="#26a69a"/>
<rect x="789" y="201" width="1" height="56" fill="#26a69a"/>
<rect x="787" y="206" width="5" height="47" fill="#26a69a"/>
<rect x="795" y="186" width="1" height="22" fill="#26a69a"/>
<rect x="793" y="189" width="5" height="18" fill="#26a69a"/>
<rect x="801" y="181" width="1" height="40" fill="#ef5350"/>
<rect x="799" y="189" width="5" height="20" fill="#ef5350"/>
<rect x="807" y="193" width="1" height="26" fill="#26a69a"/>
<rect x="805" y="206" width="5" height="3" fill="#26a69a"/>
<rect x="813" y="199" width="1" height="20" fill="#26a69a"/>
<rect x="811" y="206" width="5" height="1" fill="#26a69a"/>
<rect x="819" y="192" width="1" height="25" fill="#ef5350"/>
<rect x="817" y="206" width="5" height="2" fill="#ef5350"/>
<rect x="825" y="205" width="1" height="53" fill="#ef5350"/>
<rect x="823" y="211" width="5" height="46" fill="#ef5350"/>
<rect x="831" y="234" width="1" height="27" fill="#ef5350"/>
<rect x="829" y="256" width="5" height="1" fill="#ef5350"/>
<rect x="837" y="240" width="1" height="26" fill="#ef5350"/>
<rect x="835" y="256" width="5" height="5" fill="#ef5350"/>
<rect x="843" y="250" width="1" height="13" fill="#26a69a"/>
<rect x="841" y="256" width="5" height="5" fill="#26a69a"/>
<rect x="849" y="254" width="1" height="48" fill="#ef5350"/>
<rect x="847" y="256" width="5" height="37" fill="#ef5350"/>
<rect x="855" y="286" width="1" height="16" fill="#ef5350"/>
<rect x="853" y="291" width="5" height="8" fill="#ef5350"/>
<rect x="861" y="295" width="1" height="15" fill="#ef5350"/>
<rect x="859" y="298" width="5" height="4" fill="#ef5350"/>
<rect x="867" y="268" width="1" height="37" fill="#26a69a"/>
<rect x="865" y="276" width="5" height="26" fill="#26a69a"/>
<rect x="873" y="255" width="1" height="24" fill="#26a69a"/>
<rect x="871" y="274" width="5" height="3" fill="#26a69a"/>
<rect x="879" y="262" width="1" height="21" fill="#26a69a"/>
<rect x="877" y="265" width="5" height="10" fill="#26a69a"/>
<rect x="885" y="256" width="1" height="18" fill="#ef5350"/>
<rect x="883" y="265" width="5" height="8" fill="#ef5350"/>
<rect x="891" y="269" width="1" height="36" fill="#ef5350"/>
<rect x="889" y="272" width="5" height="29" fill="#ef5350"/>
<rect x="897" y="286" width="1" height="20" fill="#26a69a"/>
<rect x="895" y="292" width="5" height="9" fill="#26a69a"/>
<rect x="903" y="258" width="1" height="45" fill="#26a69a"/>
<rect x="901" y="261" width="5" height="32" fill="#26a69a"/>
<rect x="909" y="261" width="1" height="43" fill="#ef5350"/>
<rect x="907" y="261" width="5" height="34" fill="#ef5350"/>
<rect x="915" y="291" width="1" height="11" fill="#ef5350"/>
<rect x="913" y="298" width="5" height="4" fill="#ef5350"/>
<rect x="921" y="300" width="1" height="38" fill="#ef5350"/>
<rect x="919" y="301" width="5" height="34" fill="#ef5350"/>
<rect x="927" y="332" width="1" height="17" fill="#ef5350"/>
<rect x="925" y="334" width="5" height="8" fill="#ef5350"/>
<rect x="933" y="313" width="1" height="51" fill="#26a69a"/>
<rect x="931" y="337" width="5" height="5" fill="#26a69a"/>
<rect x="939" y="335" width="1" height="23" fill="#ef5350"/>
<rect x="937" y="337" width="5" height="14" fill="#ef5350"/>
<rect x="945" y="335" width="1" height="22" fill="#26a69a"/>
<rect x="943" y="339" width="5" height="13" fill="#26a69a"/>
<rect x="951" y="329" width="1" height="17" fill="#26a69a"/>
<rect x="949" y="333" width="5" height="7" fill="#26a69a"/>
<rect x="957" y="328" width="1" height="60" fill="#ef5350"/>
<rect x="955" y="333" width="5" height="48" fill="#ef5350"/>
<rect x="963" y="367" width="1" height="41" fill="#26a69a"/>
<rect x="961" y="374" width="5" height="7" fill="#26a69a"/>
<rect x="969" y="355" width="1" height="28" fill="#26a69a"/>
<rect x="967" y="361" width="5" height="14" fill="#26a69a"/>
<rect x="975" y="298" width="1" height="64" fill="#26a69a"/>
<rect x="973" y="304" width="5" height="58" fill="#26a69a"/>
<rect x="981" y="277" width="1" height="48" fill="#ef5350"/>
<rect x="979" y="304" width="5" height="4" fill="#ef5350"/>
<rect x="987" y="281" width="1" height="37" fill="#26a69a"/>
<rect x="985" y="307" width="5" height="1" fill="#26a69a"/>
<rect x="993" y="286" width="1" height="34" fill="#ef5350"/>
<rect x="991" y="307" width="5" height="12" fill="#ef5350"/>
<rect x="999" y="292" width="1" height="27" fill="#26a69a"/>
<rect x="997" y="307" width="5" height="12" fill="#26a69a"/>
<rect x="1005" y="288" width="1" height="40" fill="#26a69a"/>
<rect x="1003" y="298" width="5" height="9" fill="#26a69a"/>
<rect x="1011" y="289" width="1" height="35" fill="#ef5350"/>
<rect x="1009" y="298" width="5" height="26" fill="#ef5350"/>
<rect x="1017" y="311" width="1" height="36" fill="#ef5350"/>
<rect x="1015" y="323" width="5" height="20" fill="#ef5350"/>
<rect x="1023" y="330" width="1" height="40" fill="#ef5350"/>
<rect x="1021" y="342" width="5" height="20" fill="#ef5350"/>
<rect x="1029" y="358" width="1" height="27" fill="#ef5350"/>
<rect x="1027" y="361" width="5" height="11" fill="#ef5350"/>
<rect x="1035" y="357" width="1" height="22" fill="#ef5350"/>
<rect x="1033" y="370" width="5" height="9" fill="#ef5350"/>
<rect x="1041" y="361" width="1" height="24" fill="#26a69a"/>
<rect x="1039" y="365" width="5" height="14" fill="#26a69a"/>
<rect x="1047" y="361" width="1" height="16" fill="#ef5350"/>
<rect x="1045" y="365" width="5" height="10" fill="#ef5350"/>
<rect x="1053" y="357" width="1" height="29" fill="#ef5350"/>
<rect x="1051" y="374" width="5" height="4" fill="#ef5350"/>
<rect x="1059" y="333" width="1" height="60" fill="#26a69a"/>
<rect x="1057" y="343" width="5" height="35" fill="#26a69a"/>
<rect x="1065" y="327" width="1" height="41" fill="#ef5350"/>
<rect x="1063" y="335" width="5" height="31" fill="#ef5350"/>
<rect x="1071" y="355" width="1" height="18" fill="#ef5350"/>
<rect x="1069" y="365" width="5" height="7" fill="#ef5350"/>
<rect x="1077" y="366" width="1" height="15" fill="#ef5350"/>
<rect x="1075" y="371" width="5" height="8" fill="#ef5350"/>
<rect x="1083" y="369" width="1" height="30" fill="#ef5350"/>
<rect x="1081" y="378" width="5" height="13" fill="#ef5350"/>
<rect x="1089" y="388" width="1" height="58" fill="#ef5350"/>
<rect x="1087" y="390" width="5" height="42" fill="#ef5350"/>
<rect x="1095" y="426" width="1" height="23" fill="#ef5350"/>
<rect x="1093" y="430" width="5" height="14" fill="#ef5350"/>
<rect x="1101" y="436" width="1" height="32" fill="#26a69a"/>
<rect x="1099" y="440" width="5" height="4" fill="#26a69a"/>
<rect x="1107" y="401" width="1" height="41" fill="#26a69a"/>
<rect x="1105" y="403" width="5" height="38" fill="#26a69a"/>
<rect x="1113" y="374" width="1" height="40" fill="#ef5350"/>
<rect x="1111" y="403" width="5" height="2" fill="#ef5350"/>
<rect x="1119" y="390" width="1" height="22" fill="#ef5350"/>
<rect x="1117" y="404" width="5" height="6" fill="#ef5350"/>
<rect x="1125" y="384" width="1" height="31" fill="#26a69a"/>
<rect x="1123" y="396" width="5" height="14" fill="#26a69a"/>
<rect x="1131" y="390" width="1" height="16" fill="#ef5350"/>
<rect x="1129" y="396" width="5" height="3" fill="#ef5350"/>
<rect x="1137" y="391" width="1" height="42" fill="#ef5350"/>
<rect x="1135" y="398" width="5" height="21" fill="#ef5350"/>
<rect x="1143" y="372" width="1" height="95" fill="#26a69a"/>
<rect x="1141" y="386" width="5" height="33" fill="#26a69a"/>
<rect x="1149" y="359" width="1" height="32" fill="#26a69a"/>
<rect x="1147" y="381" width="5" height="6" fill="#26a69a"/>
<rect x="1155" y="373" width="1" height="55" fill="#ef5350"/>
<rect x="1153" y="381" width="5" height="44" fill="#ef5350"/>
<rect x="1161" y="380" width="1" height="50" fill="#26a69a"/>
<rect x="1159" y="381" width="5" height="44" fill="#26a69a"/>
<rect x="1167" y="379" width="1" height="37" fill="#ef5350"/>
<rect x="1165" y="381" width="5" height="26" fill="#ef5350"/>
<rect x="1173" y="381" width="1" height="29" fill="#26a69a"/>
<rect x="1171" y="400" width="5" height="7" fill="#26a69a"/>
<rect x="1179" y="384" width="1" height="42" fill="#ef5350"/>
<rect x="1177" y="400" width="5" height="15" fill="#ef5350"/>
<rect x="1185" y="409" width="1" height="35" fill="#ef5350"/>
<rect x="1183" y="414" width="5" height="15" fill="#ef5350"/>
<rect x="1191" y="410" width="1" height="23" fill="#26a69a"/>
<rect x="1189" y="412" width="5" height="17" fill="#26a69a"/>
<rect x="1197" y="410" width="1" height="51" fill="#ef5350"/>
<rect x="1195" y="412" width="5" height="47" fill="#ef5350"/>
<rect x="1203" y="443" width="1" height="35" fill="#ef5350"/>
<rect x="1201" y="458" width="5" height="14" fill="#ef5350"/>
<rect x="1209" y="448" width="1" height="32" fill="#26a69a"/>
<rect x="1207" y="459" width="5" height="13" fill="#26a69a"/>
<rect x="1215" y="455" width="1" height="37" fill="#ef5350"/>
<rect x="1213" y="458" width="5" height="27" fill="#ef5350"/>
<rect x="1221" y="458" width="1" height="37" fill="#26a69a"/>
<rect x="1219" y="464" width="5" height="21" fill="#26a69a"/>
<rect x="1227" y="445" width="1" height="35" fill="#26a69a"/>
<rect x="1225" y="448" width="5" height="17" fill="#26a69a"/>
<rect x="1233" y="424" width="1" height="35" fill="#26a69a"/>
<rect x="1231" y="445" width="5" height="4" fill="#26a69a"/>
<rect x="1239" y="425" width="1" height="24" fill="#26a69a"/>
<rect x="1237" y="438" width="5" height="8" fill="#26a69a"/>
<rect x="1245" y="424" width="1" height="22" fill="#ef5350"/>
<rect x="1243" y="435" width="5" height="7" fill="#ef5350"/>
<rect x="1251" y="426" width="1" height="33" fill="#ef5350"/>
<rect x="1249" y="441" width="5" height="10" fill="#ef5350"/>
<rect x="1257" y="429" width="1" height="25" fill="#26a69a"/>
<rect x="1255" y="441" width="5" height="10" fill="#26a69a"/>
<rect x="1263" y="404" width="1" height="38" fill="#26a69a"/>
<rect x="1261" y="421" width="5" height="21" fill="#26a69a"/>
<rect x="1269" y="387" width="1" height="36" fill="#26a69a"/>
<rect x="1267" y="403" width="5" height="19" fill="#26a69a"/>
<rect x="1275" y="399" width="1" height="17" fill="#ef5350"/>
<rect x="1273" y="406" width="5" height="4" fill="#ef5350"/>
<rect x="1281" y="397" width="1" height="32" fill="#26a69a"/>
<rect x="1279" y="405" width="5" height="5" fill="#26a69a"/>
<rect x="1287" y="373" width="1" height="38" fill="#26a69a"/>
<rect x="1285" y="382" width="5" height="24" fill="#26a69a"/>
<rect x="1293" y="341" width="1" height="44" fill="#26a69a"/>
<rect x="1291" y="351" width="5" height="32" fill="#26a69a"/>
<rect x="1299" y="322" width="1" height="34" fill="#26a69a"/>
<rect x="1297" y="324" width="5" height="28" fill="#26a69a"/>
<rect x="1305" y="318" width="1" height="24" fill="#ef5350"/>
<rect x="1303" y="330" width="5" height="7" fill="#ef5350"/>
<rect x="1311" y="331" width="1" height="23" fill="#ef5350"/>
<rect x="1309" y="336" width="5" height="15" fill="#ef5350"/>
<rect x="1317" y="341" width="1" height="20" fill="#26a69a"/>
<rect x="1315" y="347" width="5" height="4" fill="#26a69a"/>
<rect x="1323" y="328" width="1" height="41" fill="#ef5350"/>
<rect x="1321" y="347" width="5" height="17" fill="#ef5350"/>
<rect x="1329" y="351" width="1" height="30" fill="#ef5350"/>
<rect x="1327" y="363" width="5" height="15" fill="#ef5350"/>
<rect x="1335" y="361" width="1" height="18" fill="#26a69a"/>
<rect x="1333" y="365" width="5" height="13" fill="#26a69a"/>
<rect x="1341" y="354" width="1" height="26" fill="#26a69a"/>
<rect x="1339" y="358" width="5" height="8" fill="#26a69a"/>
<rect x="1347" y="334" width="1" height="43" fill="#26a69a"/>
<rect x="1345" y="335" width="5" height="24" fill="#26a69a"/>
<rect x="1353" y="320" width="1" height="26" fill="#26a69a"/>
<rect x="1351" y="335" width="5" height="1" fill="#26a69a"/>
<rect x="1359" y="323" width="1" height="25" fill="#26a69a"/>
<rect x="1357" y="327" width="5" height="9" fill="#26a69a"/>
<rect x="1365" y="320" width="1" height="30" fill="#ef5350"/>
<rect x="1363" y="325" width="5" height="24" fill="#ef5350"/>
<rect x="1371" y="341" width="1" height="45" fill="#ef5350"/>
<rect x="1369" y="348" width="5" height="33" fill="#ef5350"/>
<rect x="1377" y="369" width="1" height="17" fill="#ef5350"/>
<rect x="1375" y="380" width="5" height="6" fill="#ef5350"/>
<rect x="1383" y="370" width="1" height="33" fill="#ef5350"/>
<rect x="1381" y="385" width="5" height="11" fill="#ef5350"/>
<rect x="1389" y="391" width="1" height="23" fill="#ef5350"/>
<rect x="1387" y="395" width="5" height="19" fill="#ef5350"/>
<rect x="1395" y="398" width="1" height="16" fill="#26a69a"/>
<rect x="1393" y="404" width="5" height="8" fill="#26a69a"/>
<rect x="1401" y="401" width="1" height="21" fill="#ef5350"/>
<rect x="1399" y="404" width="5" height="16" fill="#ef5350"/>
<rect x="1407" y="412" width="1" height="15" fill="#ef5350"/>
<rect x="1405" y="419" width="5" height="2" fill="#ef5350"/>
<rect x="1413" y="408" width="1" height="22" fill="#26a69a"/>
<rect x="1411" y="411" width="5" height="10" fill="#26a69a"/>
<rect x="1419" y="389" width="1" height="26" fill="#26a69a"/>
<rect x="1417" y="395" width="5" height="17" fill="#26a69a"/>
<rect x="1425" y="384" width="1" height="13" fill="#26a69a"/>
<rect x="1423" y="389" width="5" height="8" fill="#26a69a"/>
</svg>

<!-- top toolbar -->
<div class="abs" style="left:0;top:0;width:1545px;height:37px;background:#fff;"></div>
<div class="abs" style="left:0;top:37px;width:1545px;height:1px;background:#e0e3eb;"></div>
<div class="sep" style="left:100px"></div>
<div class="sep" style="left:138px"></div>
<div class="sep" style="left:177px"></div>
<div class="sep" style="left:278px"></div>
<div class="sep" style="left:407px"></div>
<div class="sep" style="left:516px"></div>
<div class="sep" style="left:593px"></div>
<div class="sep" style="left:679px"></div>
<div class="sep" style="left:742px"></div>
<div class="sep" style="left:1153px"></div>
<div class="sep" style="left:1192px"></div>
<div class="sep" style="left:1313px"></div>
<div class="sep" style="left:1352px"></div>
<div class="sep" style="left:1391px"></div>
<div class="abs" style="left:1430px;top:0;width:115px;height:37px;background:#2196f3;"></div>
<div class="abs" style="left:1507px;top:0;width:1px;height:37px;background:#90caf9;"></div>

<!-- toolbar icons -->
<svg width="1545" height="600" viewBox="0 0 1545 600" fill="none" stroke="#131722" stroke-width="1.1" stroke-linecap="round" stroke-linejoin="round">
<!-- candles icon -->
<g stroke-width="1" stroke-linecap="butt">
<path d="M154.5 8v4M154.5 24v4M162.500 11v3.500M162.500 21.500v3.500"/>
<rect x="152.500" y="12" width="4" height="12"/>
<rect x="160.500" y="14.500" width="4" height="7"/>
</g>
<!-- compare circle plus -->
<circle cx="196.5" cy="18.5" r="9"/>
<path d="M192.5 18.5h8M196.5 14.5v8"/>
<!-- indicators -->
<path d="M287.5 16.5c2-2.5 3.5-4.5 5.5-4.5c3 0 4 5.500 7 5.500c2 0 3.500-2.500 5.500-5"/>
<path d="M300.500 24.500h8M304.500 20.500v8"/>
<path d="M394 16.500l3.500 3 3.500-3" stroke="#2a2e39" stroke-width="1.100"/>
<!-- templates -->
<path d="M417.700 13.700C420.200 13.200 422 9.100 424.500 9.100S428 13.700 430.300 13.700S433.500 11 435.600 8.500"/>
<path d="M417.700 19.500C420.200 19 422 14.900 424.500 14.900S428 19.500 430.300 19.500S433.500 16.800 435.600 14.300"/>
<path d="M417.700 27v.700M420.500 24.300v3.400M423.200 22v5.700M426.200 23.700v4M429.800 24.300h8.200M433.900 20.200v8.700" stroke-linecap="butt"/>
<!-- alert -->
<path d="M543.200 16.500A8.100 8.100 0 1 0 535.700 26.700"/>
<path d="M535.700 13.700v5h-3.500" stroke-linecap="butt"/>
<path d="M526 15.500C525.500 12 527.500 9.300 530.500 9.300C531.800 9.300 532.600 9.900 533.200 10.600M537.800 10.600C538.400 9.900 539.400 9.300 540.800 9.300C543.800 9.300 545.600 12 545 15.500"/>
<path d="M537.200 24.300h8.700M541.600 20.100v8.800" stroke-linecap="butt"/>
<!-- replay -->
<path d="M612.500 13l-6 5.500l6 5.500zM620.500 13l-6 5.500l6 5.500z"/>
<!-- undo redo -->
<g stroke="#c5c8d0">
<path d="M694.500 14l-4 3.500l4 3.500M691 17.500h7a5 5 0 0 1 5 5"/>
<path d="M727 14l4 3.500l-4 3.500M730.500 17.500h-7a5 5 0 0 0-5 5"/>
</g>
<!-- layout square -->
<rect x="1164.500" y="10.500" width="18" height="16" rx="2.500"/>
<!-- cloud -->
<path d="M1204.500 25.500a4.300 4.300 0 0 1-.5-8.500a7 7 0 0 1 13.500-1.500a5 5 0 0 1 1.500 10z"/>
<path d="M1208 19.500l2.500 2.500l4.500-4.500"/>
<path d="M1299.500 16.500l3.500 3 3.500-3" stroke="#2a2e39" stroke-width="1.100"/>
<!-- gear -->
<g transform="translate(1333 17.700) scale(.89) translate(-1333 -17.700)" stroke-width="1.240">
<circle cx="1333" cy="17.700" r="2.800"/>
<path d="M1331.300 8.200h3.400l.6 2.500l1.900.8l2.200-1.400l2.400 2.400l-1.400 2.200l.8 1.900l2.500.6v3.400l-2.500.6l-.8 1.900l1.400 2.200l-2.400 2.400l-2.200-1.400l-1.900.8l-.6 2.500h-3.400l-.6-2.500l-1.900-.8l-2.200 1.400l-2.400-2.400l1.400-2.200l-.8-1.900l-2.500-.6v-3.400l2.500-.6l.8-1.900l-1.400-2.200l2.400-2.400l2.200 1.400l1.900-.8z"/>
</g>
<!-- fullscreen -->
<path d="M1364 14.500v-4h4M1364 10.500l4.500 4.500M1380 14.500v-4h-4M1380 10.500l-4.500 4.500M1364 21.500v4h4M1364 25.500l4.500-4.500M1380 21.500v4h-4M1380 25.500l-4.500-4.500"/>
<!-- camera -->
<path d="M1402.500 11.500h4l1.500-2.200h5l1.500 2.200h4a2 2 0 0 1 2 2v10a2 2 0 0 1-2 2h-16a2 2 0 0 1-2-2v-10a2 2 0 0 1 2-2z"/>
<circle cx="1410.500" cy="18.500" r="4.200"/>
<!-- play -->
<g stroke="#fff">
<circle cx="1526.500" cy="18.500" r="10.200"/>
<path d="M1524.300 14.600l5.500 3.900l-5.500 3.900z" fill="#fff"/>
</g>
</svg>

<!-- legend vol box -->
<div class="abs" style="left:8px;top:68px;width:17px;height:17px;border:1px solid #d1d4dc;border-radius:3px;background:#fff;"></div>
<svg width="1545" height="600" viewBox="0 0 1545 600" fill="none" stroke="#131722" stroke-width="1.3" stroke-linecap="round" stroke-linejoin="round">
<path d="M14 75.500l3.300 3l3.300-3"/>
<path d="M48 60.300l5.700-11.600" stroke-width="1.250" stroke-linecap="butt"/>
</svg>

<!-- sell/buy widget -->
<div class="abs" style="left:905px;top:53px;width:312px;height:38px;border-radius:3px;background:#fff;box-shadow:0 2px 4px rgba(40,50,70,.35), 0 0 0 1px rgba(200,206,216,.6);overflow:hidden;">
  <div class="abs" style="left:15px;top:0;width:99px;height:38px;background:#fff0f1;"></div>
  <div class="abs" style="left:14px;top:0;width:1px;height:38px;background:#e9ebf0;"></div>
  <div class="abs" style="left:114px;top:0;width:1px;height:38px;background:#e9ebf0;"></div>
  <div class="abs" style="left:156px;top:0;width:1px;height:38px;background:#e9ebf0;"></div>
  <div class="abs" style="left:157px;top:0;width:99px;height:38px;background:#eff7fe;"></div>
  <div class="abs" style="left:256px;top:0;width:1px;height:38px;background:#e9ebf0;"></div>
  <div class="abs" style="left:293px;top:0;width:1px;height:38px;background:#e9ebf0;"></div>
  <div class="abs" style="left:294px;top:19px;width:18px;height:1px;background:#e9ebf0;"></div>
</div>
<svg width="1545" height="600" viewBox="0 0 1545 600" fill="none">
<g fill="#c8cbd2">
<rect x="909" y="66" width="2" height="2"/><rect x="913" y="66" width="2" height="2"/>
<rect x="909" y="71" width="2" height="2"/><rect x="913" y="71" width="2" height="2"/>
<rect x="909" y="76" width="2" height="2"/><rect x="913" y="76" width="2" height="2"/>
</g>
<circle cx="1180" cy="72" r="10.200" stroke="#ff9100" stroke-width="1.400"/>
<rect x="1179" y="66.800" width="2" height="2" fill="#ff9100"/>
<rect x="1179" y="70.800" width="2" height="6" fill="#ff9100"/>
<path d="M1204 63.300h8M1208 59.300v8M1204 81.700h8" stroke="#50535e" stroke-width="1.600"/>
</svg>

<!-- price axis -->
<div class="abs" style="left:1490px;top:38px;width:55px;height:498px;background:#fff;"></div>
<div class="abs" style="left:1489px;top:38px;width:1px;height:526px;background:#4a4e59;"></div>
<div class="abs" style="left:1490px;top:70px;width:4px;height:1px;background:#4a4e59;"></div>
<div class="abs" style="left:1490px;top:129px;width:4px;height:1px;background:#4a4e59;"></div>
<div class="abs" style="left:1490px;top:188px;width:4px;height:1px;background:#4a4e59;"></div>
<div class="abs" style="left:1490px;top:247px;width:4px;height:1px;background:#4a4e59;"></div>
<div class="abs" style="left:1490px;top:306px;width:4px;height:1px;background:#4a4e59;"></div>
<div class="abs" style="left:1490px;top:365px;width:4px;height:1px;background:#4a4e59;"></div>
<div class="abs" style="left:1490px;top:424px;width:4px;height:1px;background:#4a4e59;"></div>
<div class="abs" style="left:1490px;top:483px;width:4px;height:1px;background:#4a4e59;"></div>
<div class="abs" style="left:1489px;top:380px;width:56px;height:18px;background:#26a69a;"></div>
<div class="abs" style="left:1489px;top:389px;width:4px;height:1px;background:#fff;"></div>

<!-- time axis -->
<div class="abs" style="left:0;top:537px;width:1489px;height:26px;background:#fff;"></div>
<div class="abs" style="left:0;top:536px;width:1545px;height:1px;background:#4a4e59;"></div>
<div class="abs" style="left:0;top:563px;width:1545px;height:1px;background:#e0e3eb;"></div>
<div class="abs" style="left:0;top:564px;width:1545px;height:36px;background:#fff;"></div>
<div class="abs" style="left:58px;top:537px;width:1px;height:3px;background:#4a4e59;"></div>
<div class="abs" style="left:190px;top:537px;width:1px;height:3px;background:#4a4e59;"></div>
<div class="abs" style="left:310px;top:537px;width:1px;height:3px;background:#4a4e59;"></div>
<div class="abs" style="left:436px;top:537px;width:1px;height:3px;background:#4a4e59;"></div>
<div class="abs" style="left:568px;top:537px;width:1px;height:3px;background:#4a4e59;"></div>
<div class="abs" style="left:706px;top:537px;width:1px;height:3px;background:#4a4e59;"></div>
<div class="abs" style="left:826px;top:537px;width:1px;height:3px;background:#4a4e59;"></div>
<div class="abs" style="left:964px;top:537px;width:1px;height:3px;background:#4a4e59;"></div>
<div class="abs" style="left:1096px;top:537px;width:1px;height:3px;background:#4a4e59;"></div>
<div class="abs" style="left:1222px;top:537px;width:1px;height:3px;background:#4a4e59;"></div>
<div class="abs" style="left:1360px;top:537px;width:1px;height:3px;background:#4a4e59;"></div>
<div class="abs" style="left:1486px;top:537px;width:1px;height:3px;background:#4a4e59;"></div>
<div class="abs" style="left:297px;top:572px;width:1px;height:22px;background:#e0e3eb;"></div>
<div class="abs" style="left:1429px;top:572px;width:1px;height:22px;background:#e0e3eb;"></div>
<svg width="1545" height="600" viewBox="0 0 1545 600" fill="none" stroke="#131722" stroke-width="1.100" stroke-linecap="round">
<circle cx="1517.400" cy="551" r="4.600"/>
<path d="M1517.400 544v1.400M1517.400 556.600v1.400M1510.400 551h1.400M1523 551h1.400M1512.500 546.100l1 1M1521.300 554.900l1 1M1512.500 555.900l1-1M1521.300 547.100l1-1"/>
</svg>
<div class="abs" style="left:141.5px;top:54px;width:2px;height:2px;background:#b2b5be;"></div>
<div class="abs" style="left:163.5px;top:54px;width:2px;height:2px;background:#b2b5be;"></div>
<svg width="1545" height="600" viewBox="0 0 1545 600" fill="none">
<defs>
<clipPath id="uc0"><circle cx="1432.6" cy="521.6" r="8.0"/></clipPath>
<clipPath id="uc1"><circle cx="1438.6" cy="521.6" r="8.0"/></clipPath>
<clipPath id="uc2"><circle cx="1444.6" cy="521.6" r="8.0"/></clipPath>
<clipPath id="uc3"><circle cx="1450.6" cy="521.6" r="8.0"/></clipPath>
</defs>
<circle cx="1450.6" cy="497.6" r="8.0" fill="#3f4fa3"/>
<circle cx="1455.57" cy="499.14" r=".8" fill="#f5d23a"/>
<circle cx="1453.72" cy="501.76" r=".8" fill="#f5d23a"/>
<circle cx="1450.67" cy="502.80" r=".8" fill="#f5d23a"/>
<circle cx="1447.60" cy="501.85" r=".8" fill="#f5d23a"/>
<circle cx="1445.68" cy="499.28" r=".8" fill="#f5d23a"/>
<circle cx="1445.63" cy="496.06" r=".8" fill="#f5d23a"/>
<circle cx="1447.48" cy="493.44" r=".8" fill="#f5d23a"/>
<circle cx="1450.53" cy="492.40" r=".8" fill="#f5d23a"/>
<circle cx="1453.60" cy="493.35" r=".8" fill="#f5d23a"/>
<circle cx="1455.52" cy="495.92" r=".8" fill="#f5d23a"/>
<circle cx="1450.6" cy="497.6" r="11.3" stroke="#ff9b21" stroke-width="1.1"/>
<circle cx="1444.6" cy="497.6" r="8.0" fill="#3f4fa3"/>
<circle cx="1449.57" cy="499.14" r=".8" fill="#f5d23a"/>
<circle cx="1447.72" cy="501.76" r=".8" fill="#f5d23a"/>
<circle cx="1444.67" cy="502.80" r=".8" fill="#f5d23a"/>
<circle cx="1441.60" cy="501.85" r=".8" fill="#f5d23a"/>
<circle cx="1439.68" cy="499.28" r=".8" fill="#f5d23a"/>
<circle cx="1439.63" cy="496.06" r=".8" fill="#f5d23a"/>
<circle cx="1441.48" cy="493.44" r=".8" fill="#f5d23a"/>
<circle cx="1444.53" cy="492.40" r=".8" fill="#f5d23a"/>
<circle cx="1447.60" cy="493.35" r=".8" fill="#f5d23a"/>
<circle cx="1449.52" cy="495.92" r=".8" fill="#f5d23a"/>
<circle cx="1444.6" cy="497.6" r="11.3" stroke="#ff4a68" stroke-width="1.1"/>
<circle cx="1438.6" cy="497.6" r="8.0" fill="#3f4fa3"/>
<circle cx="1443.57" cy="499.14" r=".8" fill="#f5d23a"/>
<circle cx="1441.72" cy="501.76" r=".8" fill="#f5d23a"/>
<circle cx="1438.67" cy="502.80" r=".8" fill="#f5d23a"/>
<circle cx="1435.60" cy="501.85" r=".8" fill="#f5d23a"/>
<circle cx="1433.68" cy="499.28" r=".8" fill="#f5d23a"/>
<circle cx="1433.63" cy="496.06" r=".8" fill="#f5d23a"/>
<circle cx="1435.48" cy="493.44" r=".8" fill="#f5d23a"/>
<circle cx="1438.53" cy="492.40" r=".8" fill="#f5d23a"/>
<circle cx="1441.60" cy="493.35" r=".8" fill="#f5d23a"/>
<circle cx="1443.52" cy="495.92" r=".8" fill="#f5d23a"/>
<circle cx="1432.6" cy="497.6" r="8.0" fill="#3f4fa3"/>
<circle cx="1437.57" cy="499.14" r=".8" fill="#f5d23a"/>
<circle cx="1435.72" cy="501.76" r=".8" fill="#f5d23a"/>
<circle cx="1432.67" cy="502.80" r=".8" fill="#f5d23a"/>
<circle cx="1429.60" cy="501.85" r=".8" fill="#f5d23a"/>
<circle cx="1427.68" cy="499.28" r=".8" fill="#f5d23a"/>
<circle cx="1427.63" cy="496.06" r=".8" fill="#f5d23a"/>
<circle cx="1429.48" cy="493.44" r=".8" fill="#f5d23a"/>
<circle cx="1432.53" cy="492.40" r=".8" fill="#f5d23a"/>
<circle cx="1435.60" cy="493.35" r=".8" fill="#f5d23a"/>
<circle cx="1437.52" cy="495.92" r=".8" fill="#f5d23a"/>
<circle cx="1432.6" cy="497.6" r="11.3" stroke="#ff9b21" stroke-width="1.1"/>
<circle cx="1441.6" cy="491.20000000000005" r="6" fill="#fff"/>
<g clip-path="url(#uc3)">
<rect x="1442.6" y="513.6" width="16.0" height="16.0" fill="#fff"/>
<rect x="1442.6" y="513.60" width="16.0" height="2.29" fill="#ef5466"/>
<rect x="1442.6" y="518.17" width="16.0" height="2.29" fill="#ef5466"/>
<rect x="1442.6" y="522.74" width="16.0" height="2.29" fill="#ef5466"/>
<rect x="1442.6" y="527.31" width="16.0" height="2.29" fill="#ef5466"/>
<rect x="1442.6" y="513.6" width="9.8" height="9.7" fill="#5a97e6"/>
<rect x="1444.50" y="515.80" width="1.4" height="1.4" fill="#e8f0fc"/>
<rect x="1444.50" y="518.40" width="1.4" height="1.4" fill="#e8f0fc"/>
<rect x="1444.50" y="521.00" width="1.4" height="1.4" fill="#e8f0fc"/>
<rect x="1447.20" y="515.80" width="1.4" height="1.4" fill="#e8f0fc"/>
<rect x="1447.20" y="518.40" width="1.4" height="1.4" fill="#e8f0fc"/>
<rect x="1447.20" y="521.00" width="1.4" height="1.4" fill="#e8f0fc"/>
<rect x="1449.90" y="515.80" width="1.4" height="1.4" fill="#e8f0fc"/>
<rect x="1449.90" y="518.40" width="1.4" height="1.4" fill="#e8f0fc"/>
<rect x="1449.90" y="521.00" width="1.4" height="1.4" fill="#e8f0fc"/>
</g>
<circle cx="1450.6" cy="521.6" r="11.3" stroke="#ff9b21" stroke-width="1.1"/>
<g clip-path="url(#uc2)">
<rect x="1436.6" y="513.6" width="16.0" height="16.0" fill="#fff"/>
<rect x="1436.6" y="513.60" width="16.0" height="2.29" fill="#ef5466"/>
<rect x="1436.6" y="518.17" width="16.0" height="2.29" fill="#ef5466"/>
<rect x="1436.6" y="522.74" width="16.0" height="2.29" fill="#ef5466"/>
<rect x="1436.6" y="527.31" width="16.0" height="2.29" fill="#ef5466"/>
<rect x="1436.6" y="513.6" width="9.8" height="9.7" fill="#5a97e6"/>
<rect x="1438.50" y="515.80" width="1.4" height="1.4" fill="#e8f0fc"/>
<rect x="1438.50" y="518.40" width="1.4" height="1.4" fill="#e8f0fc"/>
<rect x="1438.50" y="521.00" width="1.4" height="1.4" fill="#e8f0fc"/>
<rect x="1441.20" y="515.80" width="1.4" height="1.4" fill="#e8f0fc"/>
<rect x="1441.20" y="518.40" width="1.4" height="1.4" fill="#e8f0fc"/>
<rect x="1441.20" y="521.00" width="1.4" height="1.4" fill="#e8f0fc"/>
<rect x="1443.90" y="515.80" width="1.4" height="1.4" fill="#e8f0fc"/>
<rect x="1443.90" y="518.40" width="1.4" height="1.4" fill="#e8f0fc"/>
<rect x="1443.90" y="521.00" width="1.4" height="1.4" fill="#e8f0fc"/>
</g>
<circle cx="1444.6" cy="521.6" r="11.3" stroke="#ff4a68" stroke-width="1.1"/>
<g clip-path="url(#uc1)">
<rect x="1430.6" y="513.6" width="16.0" height="16.0" fill="#fff"/>
<rect x="1430.6" y="513.60" width="16.0" height="2.29" fill="#ef5466"/>
<rect x="1430.6" y="518.17" width="16.0" height="2.29" fill="#ef5466"/>
<rect x="1430.6" y="522.74" width="16.0" height="2.29" fill="#ef5466"/>
<rect x="1430.6" y="527.31" width="16.0" height="2.29" fill="#ef5466"/>
<rect x="1430.6" y="513.6" width="9.8" height="9.7" fill="#5a97e6"/>
<rect x="1432.50" y="515.80" width="1.4" height="1.4" fill="#e8f0fc"/>
<rect x="1432.50" y="518.40" width="1.4" height="1.4" fill="#e8f0fc"/>
<rect x="1432.50" y="521.00" width="1.4" height="1.4" fill="#e8f0fc"/>
<rect x="1435.20" y="515.80" width="1.4" height="1.4" fill="#e8f0fc"/>
<rect x="1435.20" y="518.40" width="1.4" height="1.4" fill="#e8f0fc"/>
<rect x="1435.20" y="521.00" width="1.4" height="1.4" fill="#e8f0fc"/>
<rect x="1437.90" y="515.80" width="1.4" height="1.4" fill="#e8f0fc"/>
<rect x="1437.90" y="518.40" width="1.4" height="1.4" fill="#e8f0fc"/>
<rect x="1437.90" y="521.00" width="1.4" height="1.4" fill="#e8f0fc"/>
</g>
<circle cx="1438.6" cy="521.6" r="11.3" stroke="#ff9b21" stroke-width="1.1"/>
<g clip-path="url(#uc0)">
<rect x="1424.6" y="513.6" width="16.0" height="16.0" fill="#fff"/>
<rect x="1424.6" y="513.60" width="16.0" height="2.29" fill="#ef5466"/>
<rect x="1424.6" y="518.17" width="16.0" height="2.29" fill="#ef5466"/>
<rect x="1424.6" y="522.74" width="16.0" height="2.29" fill="#ef5466"/>
<rect x="1424.6" y="527.31" width="16.0" height="2.29" fill="#ef5466"/>
<rect x="1424.6" y="513.6" width="9.8" height="9.7" fill="#5a97e6"/>
<rect x="1426.50" y="515.80" width="1.4" height="1.4" fill="#e8f0fc"/>
<rect x="1426.50" y="518.40" width="1.4" height="1.4" fill="#e8f0fc"/>
<rect x="1426.50" y="521.00" width="1.4" height="1.4" fill="#e8f0fc"/>
<rect x="1429.20" y="515.80" width="1.4" height="1.4" fill="#e8f0fc"/>
<rect x="1429.20" y="518.40" width="1.4" height="1.4" fill="#e8f0fc"/>
<rect x="1429.20" y="521.00" width="1.4" height="1.4" fill="#e8f0fc"/>
<rect x="1431.90" y="515.80" width="1.4" height="1.4" fill="#e8f0fc"/>
<rect x="1431.90" y="518.40" width="1.4" height="1.4" fill="#e8f0fc"/>
<rect x="1431.90" y="521.00" width="1.4" height="1.4" fill="#e8f0fc"/>
</g>
<circle cx="1432.6" cy="521.6" r="11.3" stroke="#ff4a68" stroke-width="1.1"/>
<circle cx="1459.6" cy="515.2" r="6" fill="#fff"/>
<circle cx="1453.6" cy="515.2" r="6" fill="#fff"/>
<circle cx="1447.6" cy="515.2" r="6" fill="#fff"/>
<circle cx="1441.6" cy="515.2" r="6" fill="#fff"/>
<g font-family="'Liberation Sans',sans-serif" font-size="10" fill="#131722">
<text x="1438.6999999999998" y="495.00000000000006">3</text>
<text x="1438.6999999999998" y="519.0">4</text>
<text x="1448.2" y="519.0" textLength="2.6" lengthAdjust="spacingAndGlyphs">1</text>
<text x="1453.3" y="519.0" textLength="3.6" lengthAdjust="spacingAndGlyphs">3</text>
<text x="1459.6" y="519.0" textLength="2.6" lengthAdjust="spacingAndGlyphs">1</text>
</g></svg>
<span class="t" style="left:11.90px;top:11.00px;font-size:14px;font-weight:bold;color:#131722;transform:scaleX(0.8629)">EURUSD</span>
<span class="t" style="left:114.24px;top:11.00px;font-size:14px;font-weight:normal;color:#131722;transform:scaleX(0.9412)">D</span>
<span class="t" style="left:212.66px;top:11.00px;font-size:14px;font-weight:normal;color:#131722;transform:scaleX(0.9543)">Compare</span>
<span class="t" style="left:314.30px;top:11.00px;font-size:14px;font-weight:normal;color:#131722;transform:scaleX(1.0279)">Indicators</span>
<span class="t" style="left:443.24px;top:11.00px;font-size:14px;font-weight:normal;color:#131722;transform:scaleX(0.9802)">Templates</span>
<span class="t" style="left:552.28px;top:11.00px;font-size:14px;font-weight:normal;color:#131722;transform:scaleX(1.0499)">Alert</span>
<span class="t" style="left:628.56px;top:11.00px;font-size:14px;font-weight:normal;color:#131722;transform:scaleX(0.9202)">Replay</span>
<span class="t" style="left:1227.43px;top:11.00px;font-size:14px;font-weight:normal;color:#131722;transform:scaleX(0.9804)">Unnamed</span>
<span class="t" style="left:1445.57px;top:12.00px;font-size:14px;font-weight:normal;color:#ffffff;transform:scaleX(1.0065)">Publish</span>
<span class="t" style="left:8.60px;top:47.00px;font-size:15px;font-weight:normal;color:#131722;transform:scaleX(1.0101)">Euro</span>
<span class="t" style="left:58.72px;top:47.00px;font-size:15px;font-weight:normal;color:#131722;transform:scaleX(1.0457)">U.S.</span>
<span class="t" style="left:93.95px;top:47.00px;font-size:15px;font-weight:normal;color:#131722;transform:scaleX(1.0547)">Dollar</span>
<span class="t" style="left:147.80px;top:47.00px;font-size:15px;font-weight:normal;color:#131722;transform:scaleX(1.0116)">D</span>
<span class="t" style="left:169.90px;top:47.00px;font-size:15px;font-weight:normal;color:#131722;transform:scaleX(0.9236)">FXCM</span>
<span class="t" style="left:218.36px;top:50.00px;font-size:12px;font-weight:normal;color:#6a6d78;transform:scaleX(0.9071)">O</span>
<span class="t" style="left:226.92px;top:50.00px;font-size:12px;font-weight:normal;color:#26a69a;transform:scaleX(1.0915)">1.10477</span>
<span class="t" style="left:280.68px;top:50.00px;font-size:12px;font-weight:normal;color:#6a6d78;transform:scaleX(1.0812)">H</span>
<span class="t" style="left:290.44px;top:50.00px;font-size:12px;font-weight:normal;color:#26a69a;transform:scaleX(1.0699)">1.10678</span>
<span class="t" style="left:343.78px;top:50.00px;font-size:12px;font-weight:normal;color:#6a6d78;transform:scaleX(1.0801)">L</span>
<span class="t" style="left:351.23px;top:50.00px;font-size:12px;font-weight:normal;color:#26a69a;transform:scaleX(1.0844)">1.10477</span>
<span class="t" style="left:405.09px;top:50.00px;font-size:12px;font-weight:normal;color:#6a6d78;transform:scaleX(0.9108)">C</span>
<span class="t" style="left:413.34px;top:50.00px;font-size:12px;font-weight:normal;color:#26a69a;transform:scaleX(1.0703)">1.10587</span>
<span class="t" style="left:466.56px;top:50.00px;font-size:12px;font-weight:normal;color:#26a69a;transform:scaleX(1.0521)">+0.00095</span>
<span class="t" style="left:524.38px;top:50.00px;font-size:12px;font-weight:normal;color:#26a69a;transform:scaleX(1.0310)">(+0.09%)</span>
<span class="t" style="left:35.49px;top:73.00px;font-size:12px;font-weight:normal;color:#131722;transform:scaleX(0.9307)">Vol</span>
<span class="t" style="left:54.86px;top:73.00px;font-size:12px;font-weight:normal;color:#5d606b;transform:scaleX(0.9971)">20</span>
<span class="t" style="left:78.14px;top:73.00px;font-size:12px;font-weight:normal;color:#26a69a;transform:scaleX(1.0519)">46.455K</span>
<span class="t" style="left:130.55px;top:73.00px;font-size:12px;font-weight:normal;color:#ff8a50;transform:scaleX(1.0530)">152.205K</span>
<span class="t" style="left:926.36px;top:59.00px;font-size:11.5px;font-weight:normal;color:#ff4a68;transform:scaleX(0.9586)">SELL</span>
<span class="t" style="left:926.74px;top:72.50px;font-size:13px;font-weight:normal;color:#4a4a4a;transform:scaleX(1.0057)">1.1058</span>
<span class="t" style="left:967.21px;top:71.00px;font-size:10px;font-weight:normal;color:#26a69a;transform:scaleX(1.0607)">7</span>
<span class="t" style="left:1031.06px;top:65.70px;font-size:13px;font-weight:normal;color:#787b86;transform:scaleX(0.9754)">0.1</span>
<span class="t" style="left:1068.80px;top:59.00px;font-size:11.5px;font-weight:normal;color:#2196f3;transform:scaleX(0.9949)">BUY</span>
<span class="t" style="left:1068.74px;top:72.50px;font-size:13px;font-weight:normal;color:#4a4a4a;transform:scaleX(1.0135)">1.1058</span>
<span class="t" style="left:1109.59px;top:71.00px;font-size:10px;font-weight:normal;color:#26a69a;transform:scaleX(1.0242)">8</span>
<span class="t" style="left:16.03px;top:576.00px;font-size:14px;font-weight:normal;color:#131722;transform:scaleX(0.8672)">1D</span>
<span class="t" style="left:45.65px;top:576.00px;font-size:14px;font-weight:normal;color:#131722;transform:scaleX(0.8778)">5D</span>
<span class="t" style="left:75.73px;top:576.00px;font-size:14px;font-weight:normal;color:#131722;transform:scaleX(0.9837)">1M</span>
<span class="t" style="left:107.98px;top:576.00px;font-size:14px;font-weight:normal;color:#131722;transform:scaleX(0.9699)">3M</span>
<span class="t" style="left:139.33px;top:576.00px;font-size:14px;font-weight:normal;color:#131722;transform:scaleX(1.0053)">6M</span>
<span class="t" style="left:171.22px;top:576.00px;font-size:14px;font-weight:normal;color:#131722;transform:scaleX(0.8716)">YTD</span>
<span class="t" style="left:209.85px;top:576.00px;font-size:14px;font-weight:normal;color:#131722;transform:scaleX(0.8420)">1Y</span>
<span class="t" style="left:237.77px;top:576.00px;font-size:14px;font-weight:normal;color:#131722;transform:scaleX(0.8408)">5Y</span>
<span class="t" style="left:266.18px;top:576.00px;font-size:14px;font-weight:normal;color:#131722;transform:scaleX(0.9865)">All</span>
<span class="t" style="left:313.89px;top:576.00px;font-size:14px;font-weight:normal;color:#131722;transform:scaleX(1.0834)">Go to...</span>
<span class="t" style="left:1322.05px;top:576.00px;font-size:14px;font-weight:normal;color:#131722;transform:scaleX(0.9415)">09:04:27 (UTC)</span>
<span class="t" style="left:1446.42px;top:576.00px;font-size:14px;font-weight:normal;color:#131722;transform:scaleX(1.0657)">%</span>
<span class="t" style="left:1472.65px;top:576.00px;font-size:14px;font-weight:normal;color:#131722;transform:scaleX(1.0553)">log</span>
<span class="t" style="left:1505.90px;top:576.00px;font-size:14px;font-weight:normal;color:#2f96f4;transform:scaleX(1.0729)">auto</span>
<span class="t c" style="left:1498.26px;top:383.00px;font-size:12px;font-weight:normal;color:#ffffff;transform:scaleX(0.9214)">1.10587</span>
<span class="t c" style="left:1498.26px;top:65.00px;font-size:12px;font-weight:normal;color:#4f535e;transform:scaleX(0.9203)">1.16000</span>
<span class="t c" style="left:1498.26px;top:124.00px;font-size:12px;font-weight:normal;color:#4f535e;transform:scaleX(0.9203)">1.15000</span>
<span class="t c" style="left:1498.26px;top:183.00px;font-size:12px;font-weight:normal;color:#4f535e;transform:scaleX(0.9203)">1.14000</span>
<span class="t c" style="left:1498.26px;top:242.00px;font-size:12px;font-weight:normal;color:#4f535e;transform:scaleX(0.9203)">1.13000</span>
<span class="t c" style="left:1498.26px;top:301.00px;font-size:12px;font-weight:normal;color:#4f535e;transform:scaleX(0.9203)">1.12000</span>
<span class="t c" style="left:1498.24px;top:360.00px;font-size:12px;font-weight:normal;color:#4f535e;transform:scaleX(0.9425)">1.11000</span>
<span class="t c" style="left:1498.26px;top:419.00px;font-size:12px;font-weight:normal;color:#4f535e;transform:scaleX(0.9203)">1.10000</span>
<span class="t c" style="left:1498.26px;top:478.00px;font-size:12px;font-weight:normal;color:#4f535e;transform:scaleX(0.9203)">1.09000</span>
<span class="t c" style="left:44.73px;top:545.60px;font-size:12px;font-weight:bold;color:#4a4e59;transform:scaleX(1.0302)">2019</span>
<span class="t c" style="left:179.68px;top:545.60px;font-size:12px;font-weight:normal;color:#4a4e59;transform:scaleX(1.0203)">Feb</span>
<span class="t c" style="left:299.68px;top:545.60px;font-size:12px;font-weight:normal;color:#4a4e59;transform:scaleX(1.0000)">Mar</span>
<span class="t c" style="left:427.05px;top:545.60px;font-size:12px;font-weight:normal;color:#4a4e59;transform:scaleX(1.0000)">Apr</span>
<span class="t c" style="left:556.67px;top:545.60px;font-size:12px;font-weight:normal;color:#4a4e59;transform:scaleX(1.0000)">May</span>
<span class="t c" style="left:696.91px;top:545.60px;font-size:12px;font-weight:normal;color:#4a4e59;transform:scaleX(1.0000)">Jun</span>
<span class="t c" style="left:818.92px;top:545.60px;font-size:12px;font-weight:normal;color:#4a4e59;transform:scaleX(1.0000)">Jul</span>
<span class="t c" style="left:954.01px;top:545.60px;font-size:12px;font-weight:normal;color:#4a4e59;transform:scaleX(1.0000)">Aug</span>
<span class="t c" style="left:1085.56px;top:545.60px;font-size:12px;font-weight:normal;color:#4a4e59;transform:scaleX(1.0000)">Sep</span>
<span class="t c" style="left:1212.95px;top:545.60px;font-size:12px;font-weight:normal;color:#4a4e59;transform:scaleX(1.0000)">Oct</span>
<span class="t c" style="left:1349.61px;top:545.60px;font-size:12px;font-weight:normal;color:#4a4e59;transform:scaleX(0.9857)">Nov</span>
<div class="abs" style="left:1470px;top:540px;width:19px;height:22px;overflow:hidden;"><span class="t" style="left:5.5px;top:5.6px;font-size:12px;color:#4a4e59;">Dec</span></div>
</body>
</html>
